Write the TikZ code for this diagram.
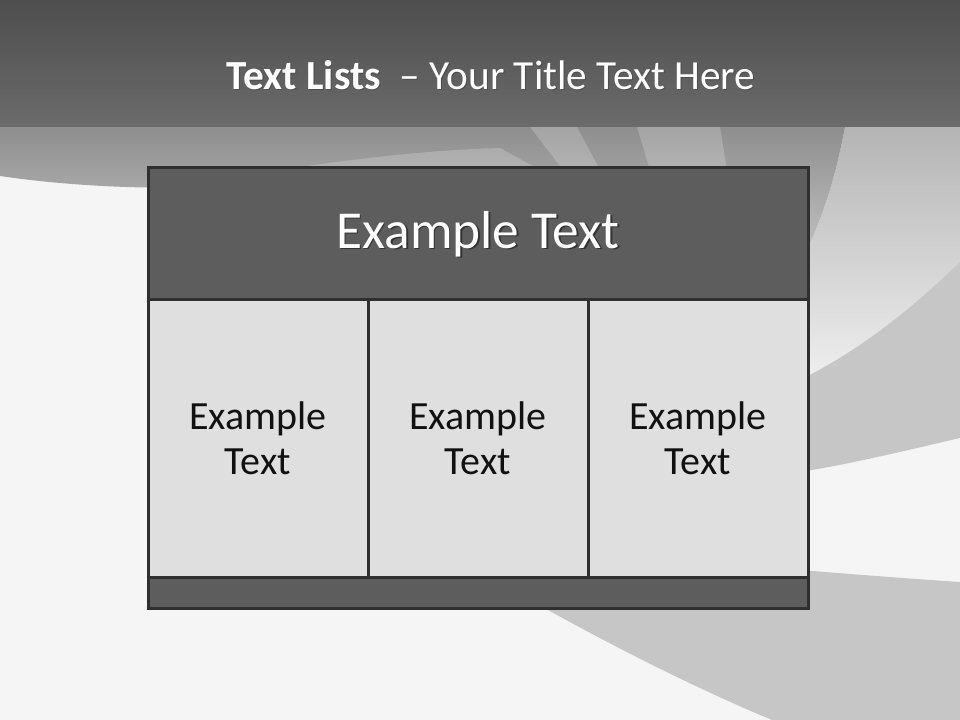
\documentclass[tikz,border=0pt]{standalone}
\usepackage{fontspec}
\setmainfont{Carlito}
\definecolor{bandTop}{HTML}{4E4E4E}
\definecolor{bandBottom}{HTML}{6B6B6B}
\definecolor{fadeTop}{HTML}{8E8E8E}
\definecolor{bgLight}{HTML}{F5F5F5}
\definecolor{swirlGray}{HTML}{C6C6C6}
\definecolor{swirlMid}{HTML}{B4B4B4}
\definecolor{swirlLight}{HTML}{E8E8E8}
\definecolor{headFill}{HTML}{5D5D5D}
\definecolor{cellFill}{HTML}{DFDFDF}
\definecolor{frameDark}{HTML}{2F2F2F}
\definecolor{textDark}{HTML}{111111}
\usetikzlibrary{positioning}

\begin{document}
\begin{tikzpicture}[
    x=0.75pt, y=-0.75pt,
    headbox/.style={rectangle, draw=frameDark, line width=2.25pt, fill=headFill, minimum width=495pt, minimum height=99pt, inner sep=0pt, outer sep=0pt},
    cellbox/.style={rectangle, draw=frameDark, line width=2.25pt, fill=cellFill, minimum width=165pt, minimum height=207.75pt, inner sep=0pt, outer sep=0pt, align=center, font=\fontsize{30}{33.75}\selectfont, text=textDark},
    footbox/.style={rectangle, draw=frameDark, line width=2.25pt, fill=headFill, minimum width=495pt, minimum height=23.25pt, inner sep=0pt, outer sep=0pt},
    headtext/.style={font=\fontsize{40}{48}\selectfont, text=white, inner sep=0pt},
    titletext/.style={font=\fontsize{31}{37}\selectfont, text=white, inner sep=0pt}
]
\useasboundingbox (0,0) rectangle (960,720);

% Background
\fill[bgLight] (0,0) rectangle (960,720);
\shade[top color=swirlMid, bottom color=swirlLight!70!white] (845,127) .. controls (835,180) and (822,220) .. (800,265) -- (800,380) .. controls (870,345) and (920,300) .. (960,262) -- (960,127) -- cycle;
\shade[top color=fadeTop, bottom color=swirlGray] (0,127) -- (845,127) .. controls (835,180) and (822,220) .. (800,265) -- (480,265) -- (480,170) .. controls (400,172) and (330,176) .. (270,182) .. controls (190,192) and (80,188) .. (0,176) -- cycle;
\fill[swirlGray] (800,380) .. controls (870,345) and (920,300) .. (960,262) -- (960,438) .. controls (900,452) and (850,464) .. (800,472) -- cycle;
\fill[swirlGray] (520,560) -- (548,610) .. controls (620,650) and (700,690) .. (772,720) -- (960,720) -- (960,582) .. controls (900,578) and (850,574) .. (800,570) -- cycle;
% swirl stripes
\fill[white, opacity=0.2] (530,127) -- (577,127) -- (600,170) -- (563,170) -- cycle;
\fill[white, opacity=0.2] (637,127) -- (720,127) -- (727,170) -- (650,170) -- cycle;
\fill[white, opacity=0.2] (280,170) .. controls (360,158) and (430,150) .. (500,148) -- (540,170) -- cycle;

% Title band
\shade[top color=bandTop, bottom color=bandBottom] (0,0) rectangle (960,127);
\node[titletext, text=black, opacity=0.2] (titleshadow) at (492,76) {\textbf{Text Lists}~ – Your Title Text Here};
\node[titletext] (title) at (491,75) {\textbf{Text Lists}~ – Your Title Text Here};

% Table
\node[headbox] (head) at (478,234) {};
\node[headtext, text=black, opacity=0.45] (headshadow) at (479.5,235.5) {Example Text};
\node[headtext] (headlabel) at (478,234) {Example Text};

\node[cellbox, below right=0pt and 0pt of head.south west] (cellA) {Example\\Text};
\node[cellbox, right=0pt of cellA] (cellB) {Example\\Text};
\node[cellbox, right=0pt of cellB] (cellC) {Example\\Text};

\node[footbox, below right=0pt and 0pt of cellA.south west] (foot) {};

\end{tikzpicture}
\end{document}
